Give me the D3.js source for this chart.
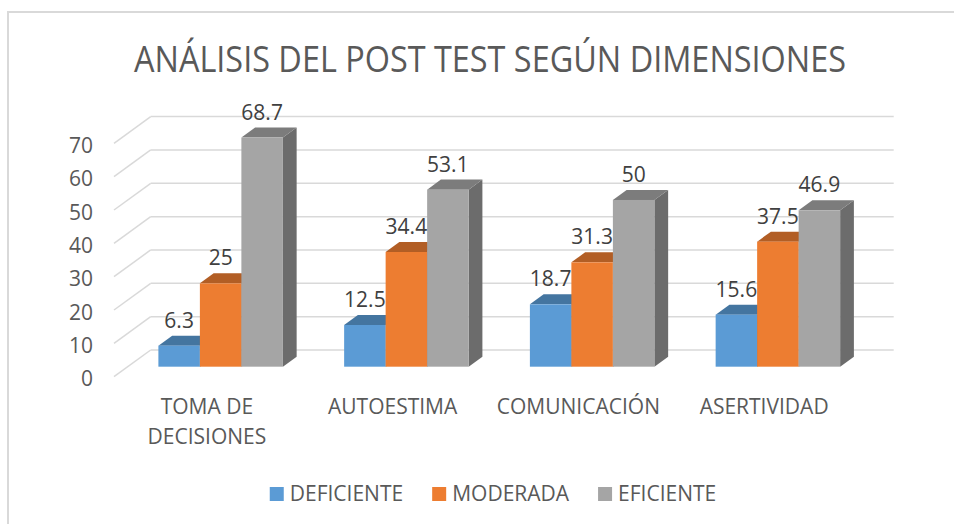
<!DOCTYPE html>
<html lang="es">
<head>
    <meta charset="UTF-8">
    <title>Análisis del post test</title>
    <script src="https://d3js.org/d3.v7.min.js"></script>
    <style>
        body {
            margin: 0;
            background: #fff;
            font-family: "Open Sans", "Noto Sans", sans-serif;
        }
        .grid line {
            stroke: #d9d9d9;
            stroke-width: 1.5px;
        }
        .tick-label, .cat-label, .legend text {
            fill: #595959;
        }
        .value-label {
            fill: #404040;
        }
    </style>
</head>
<body>
    <svg width="954" height="524"></svg>
    <script>
        // data
        var categories = ["TOMA DE DECISIONES", "AUTOESTIMA", "COMUNICACIÓN", "ASERTIVIDAD"];
        var categoryLines = [["TOMA DE", "DECISIONES"], ["AUTOESTIMA"], ["COMUNICACIÓN"], ["ASERTIVIDAD"]];
        var seriesNames = ["DEFICIENTE", "MODERADA", "EFICIENTE"];
        var deficiente = [6.3, 12.5, 18.7, 15.6];
        var moderada = [25, 34.4, 31.3, 37.5];
        var eficiente = [68.7, 53.1, 50, 46.9];
        var yTicks = [0, 10, 20, 30, 40, 50, 60, 70];
        var colors = ["#5B9BD5", "#ED7D31", "#A5A5A5"];

        var seriesValues = [deficiente, moderada, eficiente];

        var svg = d3.select("svg");

        // outer chart border (runs past the right/bottom edge)
        svg.append("rect")
            .attr("x", 8).attr("y", 12)
            .attr("width", 960).attr("height", 530)
            .attr("fill", "#fff")
            .attr("stroke", "#d9d9d9")
            .attr("stroke-width", 2);

        // title
        svg.append("text")
            .attr("x", 490)
            .attr("y", 72)
            .attr("text-anchor", "middle")
            .attr("textLength", 712)
            .attr("lengthAdjust", "spacingAndGlyphs")
            .style("font-size", "37px")
            .style("fill", "#595959")
            .text("ANÁLISIS DEL POST TEST SEGÚN DIMENSIONES");

        // oblique 3d: front plane scales + depth vector
        var depthX = 36.7, depthY = -26.7;
        var y = d3.scaleLinear().domain([0, 70]).range([376.7, 143.3]);
        var x0 = d3.scaleBand().domain(categories).range([114, 857]);
        var x1 = d3.scaleBand().domain(seriesNames).range([0, x0.bandwidth()]).paddingOuter(0.738);
        var zFront = 0.375, zBack = 0.75;

        function px(xv, z) { return xv + z * depthX; }
        function py(v, z) { return y(v) + z * depthY; }

        var wallLeft = x0.range()[0], wallRight = x0.range()[1];

        // gridlines: side wall diagonals + back wall horizontals
        var grid = svg.append("g").attr("class", "grid");
        grid.selectAll(".side")
            .data(yTicks)
          .enter().append("line")
            .attr("x1", wallLeft).attr("y1", function(d) { return py(d, 0); })
            .attr("x2", px(wallLeft, 1)).attr("y2", function(d) { return py(d, 1); });
        grid.selectAll(".back")
            .data(yTicks)
          .enter().append("line")
            .attr("x1", px(wallLeft, 1)).attr("y1", function(d) { return py(d, 1); })
            .attr("x2", px(wallRight, 1)).attr("y2", function(d) { return py(d, 1); });

        // y tick labels
        svg.append("g").selectAll("text")
            .data(yTicks)
          .enter().append("text")
            .attr("class", "tick-label")
            .attr("x", 93)
            .attr("y", function(d) { return y(d) + 2; })
            .attr("dy", "0.36em")
            .attr("text-anchor", "end")
            .style("font-size", "21px")
            .text(function(d) { return d; });

        // bars
        var bars = [];
        categories.forEach(function(c, ci) {
            seriesNames.forEach(function(s, si) {
                bars.push({cat: c, series: s, si: si, value: seriesValues[si][ci]});
            });
        });

        function poly(pts) {
            return pts.map(function(p) { return p.join(","); }).join(" ");
        }

        var barG = svg.append("g");
        bars.forEach(function(b) {
            var left = x0(b.cat) + x1(b.series);
            var right = left + x1.bandwidth();
            var col = d3.color(colors[b.si]);
            var g = barG.append("g");
            // right side
            g.append("polygon")
                .attr("points", poly([
                    [px(right, zFront), py(0, zFront)], [px(right, zBack), py(0, zBack)],
                    [px(right, zBack), py(b.value, zBack)], [px(right, zFront), py(b.value, zFront)]
                ]))
                .attr("fill", col.darker(1.2));
            // top
            g.append("polygon")
                .attr("points", poly([
                    [px(left, zFront), py(b.value, zFront)], [px(right, zFront), py(b.value, zFront)],
                    [px(right, zBack), py(b.value, zBack)], [px(left, zBack), py(b.value, zBack)]
                ]))
                .attr("fill", col.darker(0.8));
            // front
            g.append("rect")
                .attr("x", px(left, zFront))
                .attr("y", py(b.value, zFront))
                .attr("width", right - left)
                .attr("height", py(0, zFront) - py(b.value, zFront))
                .attr("fill", colors[b.si]);
        });

        // value labels
        svg.append("g").selectAll("text")
            .data(bars)
          .enter().append("text")
            .attr("class", "value-label")
            .attr("x", function(d) { return px(x0(d.cat) + x1(d.series) + x1.bandwidth() / 2, zFront); })
            .attr("y", function(d) { return py(d.value, zBack) - 8; })
            .attr("text-anchor", "middle")
            .style("font-size", "21px")
            .text(function(d) { return d.value; });

        // category labels
        var catG = svg.append("g").selectAll("text")
            .data(categories)
          .enter().append("text")
            .attr("class", "cat-label")
            .attr("x", function(d) { return x0(d) + x0.bandwidth() / 2; })
            .attr("y", 414)
            .attr("text-anchor", "middle")
            .style("font-size", "21px");
        catG.each(function(d, i) {
            var t = d3.select(this);
            categoryLines[i].forEach(function(line, li) {
                t.append("tspan")
                    .attr("x", x0(d) + x0.bandwidth() / 2)
                    .attr("dy", li === 0 ? 0 : 30)
                    .text(line);
            });
        });

        // legend
        var legend = svg.append("g").attr("class", "legend");
        var lx = 0;
        seriesNames.forEach(function(s, i) {
            var item = legend.append("g").attr("transform", "translate(" + lx + ",0)");
            item.append("rect")
                .attr("x", 0).attr("y", 487)
                .attr("width", 14).attr("height", 14)
                .attr("fill", colors[i]);
            var t = item.append("text")
                .attr("x", 20).attr("y", 501)
                .style("font-size", "21px")
                .text(s);
            lx += 20 + t.node().getComputedTextLength() + 29;
        });
        var lw = lx - 29;
        legend.attr("transform", "translate(" + (493 - lw / 2) + ",0)");
    </script>
</body>
</html>
